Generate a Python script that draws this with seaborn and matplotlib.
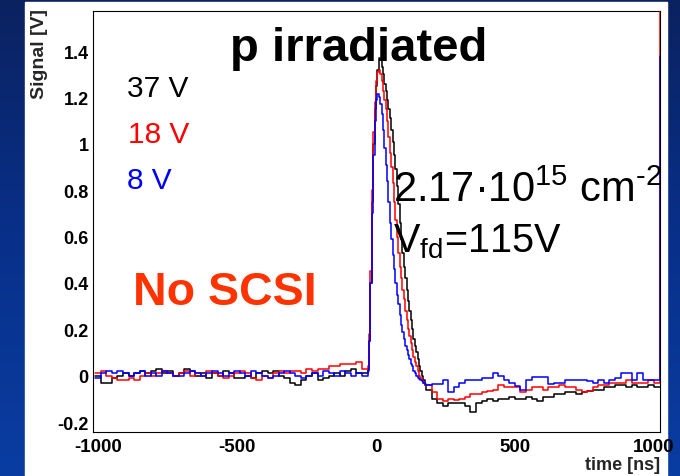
import numpy as np
import pandas as pd
import matplotlib
matplotlib.use("Agg")
import matplotlib.pyplot as plt
import seaborn as sns
from matplotlib.ticker import MultipleLocator, FuncFormatter
from matplotlib.colors import LinearSegmentedColormap

# ---------------- data ----------------
t_base = list(range(-1010, -49, 20))              # baseline bins (20 ns)
t_pulse = list(range(-30, 176, 5))                # pulse bins (5 ns)
t_tail = list(range(180, 1001, 20))               # tail bins (20 ns)
t_edge = [1022]
time_ns = t_base + t_pulse + t_tail + t_edge

black_base = [0.00, -0.03, -0.03, -0.01, 0.00, 0.01, 0.00, 0.01, 0.02, 0.01,
              0.02, 0.03, 0.01, 0.02, 0.00, 0.01, 0.03, 0.02, 0.00, 0.01,
              -0.01, 0.01, 0.00, 0.02, 0.01, -0.01, -0.01, 0.00, -0.01, 0.01,
              0.02, 0.01, 0.02, 0.00, -0.01, -0.03, -0.04, -0.02, 0.00, 0.01,
              -0.02, -0.01, 0.00, 0.01, 0.00, 0.02, 0.03, 0.01, 0.01]
red_base = [0.01, 0.02, 0.00, -0.01, -0.02, -0.02, -0.01, -0.02, 0.00, 0.01,
            0.00, 0.01, 0.02, 0.01, 0.00, 0.01, 0.02, 0.00, 0.01, 0.00,
            0.02, 0.01, 0.00, -0.01, 0.00, 0.01, 0.02, 0.01, -0.01, -0.02,
            0.00, -0.01, 0.01, 0.02, 0.01, 0.02, 0.02, 0.01, 0.03, 0.02,
            0.03, 0.03, 0.04, 0.04, 0.05, 0.05, 0.05, 0.06, 0.03]
blue_base = [-0.01, 0.01, 0.02, 0.01, 0.02, 0.01, 0.00, 0.01, 0.02, 0.00,
             0.01, 0.00, 0.02, 0.01, 0.00, 0.00, 0.01, 0.02, 0.01, 0.00,
             0.01, 0.02, 0.01, 0.00, 0.01, 0.02, 0.01, 0.00, 0.02, 0.01,
             0.00, -0.01, 0.00, 0.01, 0.02, 0.01, 0.00, -0.01, 0.00, 0.01,
             0.00, 0.02, 0.01, 0.00, 0.02, 0.01, 0.00, 0.01, 0.00]

black_pulse = [0.03, 0.15, 0.40, 0.75, 1.00, 1.15, 1.25, 1.32, 1.37, 1.36,
               1.33, 1.30, 1.26, 1.23, 1.19, 1.15, 1.11, 1.06, 1.01, 0.95,
               0.89, 0.82, 0.74, 0.66, 0.59, 0.53, 0.47, 0.42, 0.37, 0.32,
               0.28, 0.24, 0.20, 0.16, 0.13, 0.10, 0.07, 0.04, 0.02, 0.00,
               -0.02, -0.04]
red_pulse = [0.04, 0.18, 0.45, 0.80, 1.05, 1.18, 1.27, 1.31, 1.32, 1.30,
             1.27, 1.23, 1.19, 1.15, 1.10, 1.03, 0.96, 0.90, 0.83, 0.75,
             0.67, 0.60, 0.53, 0.47, 0.42, 0.37, 0.33, 0.28, 0.24, 0.20,
             0.17, 0.14, 0.11, 0.08, 0.06, 0.04, 0.02, 0.00, -0.01, -0.02,
             -0.03, -0.04]
blue_pulse = [0.02, 0.15, 0.40, 0.70, 0.95, 1.10, 1.19, 1.215, 1.20, 1.17,
              1.13, 1.06, 0.98, 0.91, 0.84, 0.75, 0.66, 0.59, 0.52, 0.46,
              0.40, 0.35, 0.31, 0.26, 0.22, 0.19, 0.16, 0.13, 0.11, 0.09,
              0.07, 0.05, 0.04, 0.02, 0.01, 0.00, -0.01, -0.015, -0.02, -0.025,
              -0.03, -0.035]

black_tail = [-0.06, -0.10, -0.12, -0.13, -0.12, -0.12, -0.12, -0.13, -0.155, -0.12,
              -0.11, -0.10, -0.11, -0.10, -0.10, -0.09, -0.10, -0.10, -0.09, -0.10,
              -0.11, -0.09, -0.09, -0.08, -0.08, -0.07, -0.07, -0.08, -0.07, -0.065,
              -0.06, -0.06, -0.05, -0.05, -0.04, -0.04, -0.05, -0.04, -0.05, -0.05,
              -0.04, -0.05]
red_tail = [-0.04, -0.07, -0.10, -0.11, -0.10, -0.105, -0.10, -0.09, -0.08, -0.08,
            -0.07, -0.065, -0.06, -0.04, -0.05, -0.05, -0.05, -0.07, -0.06, -0.05,
            -0.05, -0.06, -0.05, -0.05, -0.04, -0.05, -0.05, -0.06, -0.07, -0.065,
            -0.05, -0.04, -0.04, -0.03, -0.03, -0.03, -0.02, -0.03, -0.03, -0.03,
            -0.02, -0.03]
blue_tail = [-0.04, -0.035, -0.035, -0.02, -0.07, -0.05, -0.03, -0.02, -0.02, -0.02,
             -0.01, -0.01, 0.01, 0.00, -0.02, -0.03, -0.045, -0.06, -0.02, -0.005,
             -0.005, -0.005, -0.035, -0.03, -0.03, -0.02, -0.02, -0.02, -0.02, -0.025,
             -0.03, -0.02, -0.03, -0.02, -0.01, 0.01, 0.01, -0.02, 0.01, -0.02,
             -0.02, -0.02]

black_edge = [-0.05]
red_edge = [1.70]
blue_edge = [1.38]

series_names = ["37 V", "18 V", "8 V"]
series_colors = ["#000000", "#ff0000", "#0000ff"]

signal = {
    "37 V": black_base + black_pulse + black_tail + black_edge,
    "18 V": red_base + red_pulse + red_tail + red_edge,
    "8 V": blue_base + blue_pulse + blue_tail + blue_edge,
}

x_ticks = [-1000, -500, 0, 500, 1000]
y_ticks = [-0.2, 0, 0.2, 0.4, 0.6, 0.8, 1.0, 1.2, 1.4]

rows = []
for name in series_names:
    for t, v in zip(time_ns, signal[name]):
        rows.append({"time": t, "signal": v, "bias": name})
df = pd.DataFrame(rows)

# ---------------- style ----------------
sns.set_style("white")
plt.rcParams["font.family"] = ["Liberation Sans", "DejaVu Sans"]
plt.rcParams["axes.unicode_minus"] = False
plt.rcParams["mathtext.fontset"] = "custom"
plt.rcParams["mathtext.rm"] = "Liberation Sans"
plt.rcParams["mathtext.it"] = "Liberation Sans"
plt.rcParams["mathtext.bf"] = "Liberation Sans:bold"

W, H = 680, 477
fig = plt.figure(figsize=(W / 100, H / 100), dpi=100)

# slide background: blue gradient + white panel
bg = fig.add_axes([0, 0, 1, 1], zorder=-10)
grad = np.linspace(0, 1, 256).reshape(-1, 1)
cmap = LinearSegmentedColormap.from_list("slide", ["#0b2260", "#08308a", "#0a3da2"])
bg.imshow(grad, aspect="auto", cmap=cmap, extent=[0, 1, 0, 1], origin="upper")
bg.add_patch(plt.Rectangle((25 / W, 0), (667 - 25) / W, (H - 3) / H,
                           transform=bg.transAxes, color="white", zorder=2))
bg.set_xlim(0, 1)
bg.set_ylim(0, 1)
bg.axis("off")

ax = fig.add_axes([93 / W, (H - 433) / H, (660 - 93) / W, (433 - 12) / H])
ax.set_facecolor("white")

sns.lineplot(data=df, x="time", y="signal", hue="bias", hue_order=series_names,
             palette=series_colors, estimator=None, sort=False,
             drawstyle="steps-post", linewidth=1.1, legend=False, ax=ax, zorder=3)

ax.set_xlim(-1018, 1022)
ax.set_ylim(-0.243, 1.573)

ax.set_xticks(x_ticks)
ax.set_yticks(y_ticks)
ax.xaxis.set_minor_locator(MultipleLocator(100))
ax.yaxis.set_minor_locator(MultipleLocator(0.05))
ax.yaxis.set_major_formatter(FuncFormatter(lambda v, p: "%g" % round(v, 2)))
ax.xaxis.set_major_formatter(FuncFormatter(lambda v, p: "%d" % v))

ax.tick_params(axis="both", which="both", direction="in", colors="black", width=0.8)
ax.tick_params(axis="y", which="major", length=13.5, pad=3, labelsize=13)
ax.tick_params(axis="y", which="minor", length=6)
ax.tick_params(axis="x", which="major", length=9, pad=4, labelsize=13.5)
ax.tick_params(axis="x", which="minor", length=4.5)
for lab in ax.get_xticklabels() + ax.get_yticklabels():
    lab.set_fontweight("bold")

for s in ax.spines.values():
    s.set_visible(True)
    s.set_color("black")
    s.set_linewidth(0.8)

ax.set_xlabel("time [ns]", fontsize=13, fontweight="bold", loc="right")
ax.xaxis.set_label_coords(1.0, -0.056)
ax.set_ylabel("")
fig.text(40 / W, 1 - 9 / H, "Signal [V]", rotation=90, fontsize=14,
         fontweight="bold", ha="center", va="top")

# annotations
ax.text(-525, 1.362, "p irradiated", fontsize=34, fontweight="bold",
        color="black", va="baseline", ha="left", zorder=5)
ax.text(-897, 1.207, "37 V", fontsize=21.5, color="#000000", va="baseline", zorder=5)
ax.text(-893, 1.009, "18 V", fontsize=21.5, color="#ff0000", va="baseline", zorder=5)
ax.text(-897, 0.810, "8 V", fontsize=21.5, color="#0000ff", va="baseline", zorder=5)
ax.text(-874, 0.31, "No SCSI", fontsize=33.5, fontweight="bold",
        color="#ff3300", va="baseline", zorder=5)
ax.text(61, 0.754, r"2.17·10$^{15}$ cm$^{\text{-}2}$", fontsize=30,
        color="black", va="baseline", zorder=5)
ax.text(61, 0.534, r"V$_{\text{fd}}$=115V", fontsize=28.5,
        color="black", va="baseline", zorder=5)

fig.savefig("out.png", dpi=100)
